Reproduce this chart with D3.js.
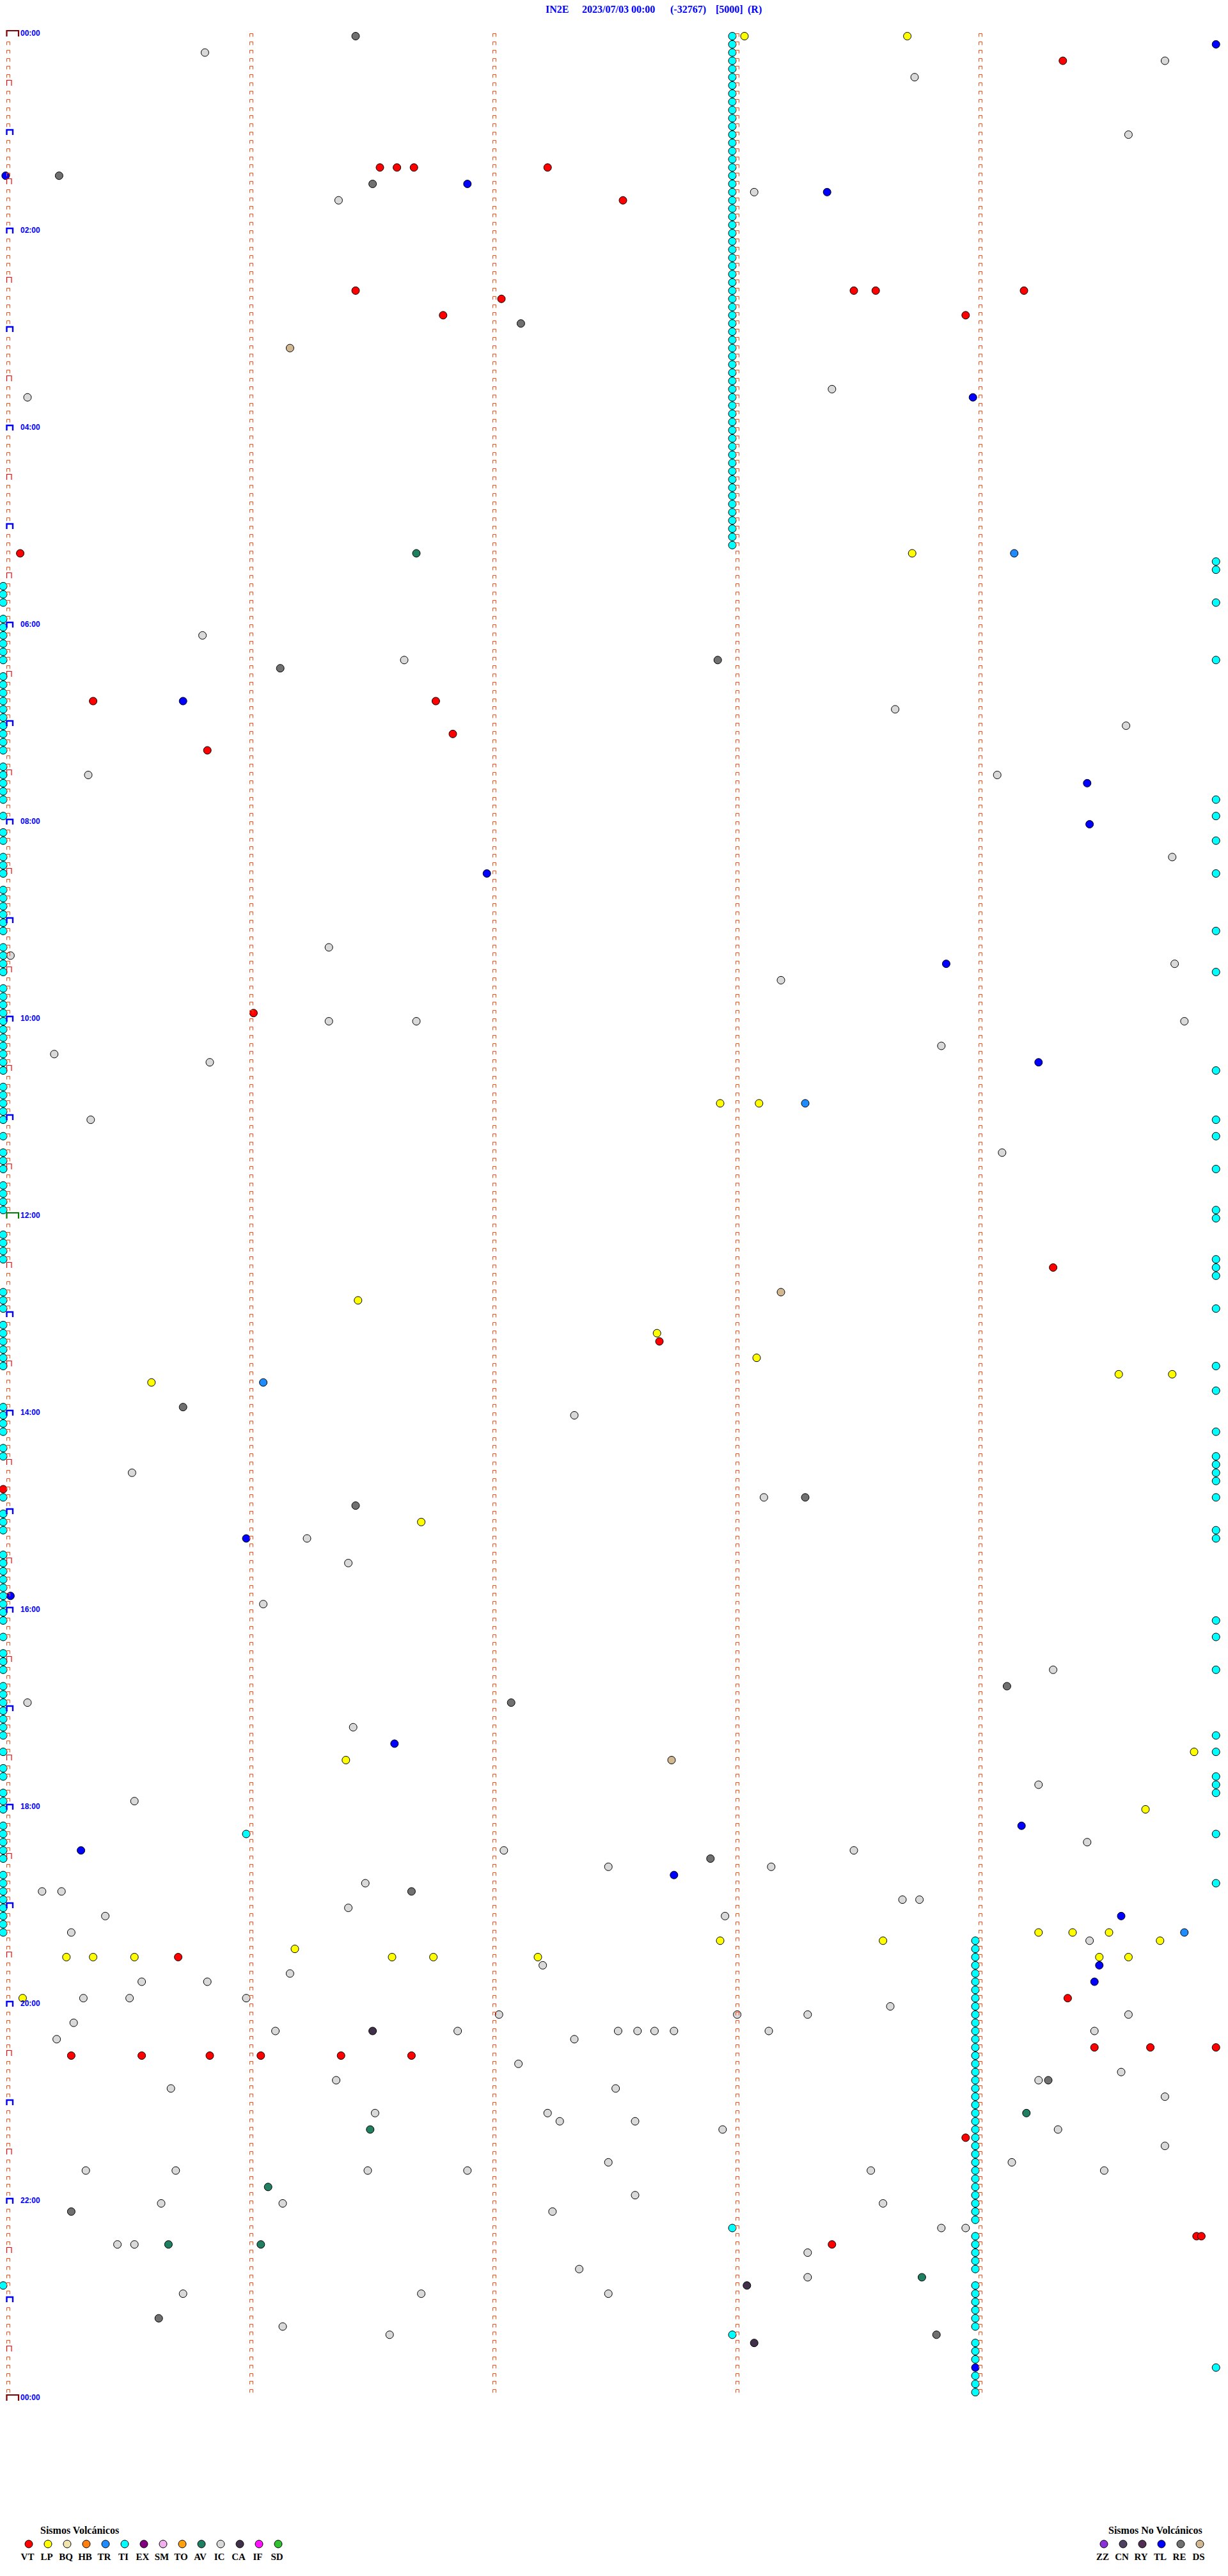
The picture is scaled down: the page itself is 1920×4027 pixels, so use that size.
<!DOCTYPE html>
<html><head><meta charset="utf-8">
<script src="https://cdn.jsdelivr.net/npm/d3@7"></script>
<style>body{margin:0;background:#fff}svg{display:block}</style>
</head><body>
<script>
// ---- DATA (event times in minutes after 00:00; each row = 5 minutes) ----
const title = ["IN2E", "2023/07/03 00:00", "(-32767)", "[5000]", "(R)"];
const hourLabels = ["00:00","02:00","04:00","06:00","08:00","10:00","12:00","14:00","16:00","18:00","20:00","22:00","00:00"];
const volcanicTypes = ["VT","LP","BQ","HB","TR","TI","EX","SM","TO","AV","IC","CA","IF","SD"];
const nonVolcanicTypes = ["ZZ","CN","RY","TL","RE","DS"];
const typeColors = {VT:"#ff0000",LP:"#ffff00",BQ:"#efe3b0",HB:"#ff8010",TR:"#1e8cff",TI:"#00ffff",EX:"#800080",SM:"#f0b0ec",TO:"#ffa010",AV:"#1f7f60",IC:"#d9d9d9",CA:"#40304a",IF:"#ff10ff",SD:"#30c030",ZZ:"#8a30d8",CN:"#504060",RY:"#502f52",TL:"#0000ff",RE:"#707070",DS:"#d2b890"};

const VT = [19.36,81.55,81.62,81.69,82.24,102.55,156.45,171.81,162.05,158.5,158.59,173.96,159.2,315.07,405.37,406.78,426.85,435.84,596.03,754.32,797.7,885.0,1170.72,1199.38,1230.28,1230.57,1230.85,1231.06,1231.39,1231.68,1229.49,1229.72,1229.99,1283.96,1344.91,1344.93,1348.41];
const LP = [3.05,3.72,318.74,652.95,653.11,771.46,792.69,808.1,819.59,819.81,820.61,906.72,1051.41,1049.9,1084.7,1162.95,1163.62,1159.26,1159.4,1159.55,1164.76,1166.2,1174.51,1174.63,1170.26,1170.37,1170.54,1171.6,1171.77,1172.2,1195.08];
const TR = [319.16,653.3,821.07,1159.86];
const TL = [9.99,85.01,91.91,98.39,223.99,405.74,459.46,484.47,511.99,568.88,629.26,916.0,950.03,1041.61,1094.19,1105.32,1122.76,1149.6,1179.51,1189.49,1424.0];
const TI = [3,8,13,18,23,28,33,38,43,48,53,58,63,68,73,78,83,88,93,98,103,108,113,118,123,128,133,138,143,148,153,158,163,168,173,178,183,188,193,198,203,208,213,218,223,228,233,238,243,248,253,258,263,268,273,278,283,288,293,298,303,308,313,
 1164,1169,1174,1179,1184,1189,1194,1199,1204,1209,1214,1219,1224,1229,1234,1239,1244,1249,1254,1259,1264,1269,1274,1279,1284,1289,1294,1299,1304,1309,1314,1319,1324,1329,1334,1344,1349,1354,1359,1364,1374,1379,1384,1389,1394,1399,1409,1414,1419,1429,1434,1439,
 1096.0,1338.0,1403.0];
const TIrowStart = [335,340,345,355,360,365,370,375,380,390,395,400,405,410,415,420,425,430,435,445,450,455,460,465,475,485,490,500,505,510,520,525,530,535,540,545,555,560,565,570,580,585,590,595,600,605,610,615,620,625,630,640,645,650,655,660,670,680,685,690,700,705,710,715,730,735,740,745,765,770,775,785,790,795,800,805,810,835,840,845,850,860,865,890,900,905,910,925,930,935,940,945,950,955,960,965,975,985,990,995,1005,1010,1015,1020,1025,1030,1035,1045,1055,1060,1070,1075,1080,1090,1095,1100,1105,1110,1120,1125,1130,1135,1140,1145,1150,1155,1370];
const TIrowEnd = [324.99,329.99,349.99,384.99,469.99,479.99,494.99,514.99,549.99,574.99,634.99,664.99,674.99,694.99,719.99,724.99,749.99,754.99,759.99,779.99,814.99,829.99,854.99,869.99,874.99,879.99,884.99,894.99,914.99,919.99,969.99,979.99,999.99,1039.99,1049.99,1064.99,1069.99,1074.99,1099.99,1129.99,1424.99];
const IC = [10.83,19.78,28.75,64.63,101.38,98.09,220.1,218.41,365.82,381.65,413.67,424.62,450.35,454.09,504.81,560.03,556.34,569.82,578.2,601.34,601.7,604.86,620.21,625.85,618.86,660.36,684.11,842.35,875.53,893.13,916.25,931.42,956.07,999.32,1015.1,1031.44,1069.26,1075.54,1107.06,1108.5,1104.46,1117.49,1118.16,1126.49,1130.16,1130.24,1138.7,1138.77,1141.42,1145.42,1147.97,1155.28,1164.47,1177.22,1181.18,1185.57,1185.84,1195.33,1195.52,1196.0,1203.65,1209.63,1207.04,1208.02,1208.31,1210.29,1216.12,1216.87,1217.53,1217.61,1217.68,1217.76,1218.15,1219.49,1220.22,1222.35,1237.12,1244.6,1246.37,1249.26,1250.69,1252.52,1259.78,1266.53,1267.24,1272.29,1272.6,1277.96,1279.34,1289.78,1299.15,1297.49,1303.57,1304.53,1300.34,1300.71,1301.5,1301.91,1317.6,1320.65,1321.15,1323.62,1327.26,1338.86,1338.96,1345.47,1345.54,1353.31,1362.37,1368.31,1375.74,1376.72,1377.49,1396.15,1401.59];
const RE = [1.45,85.23,91.52,177.13,386.14,382.94,835.74,896.45,893.3,1009.13,1017.09,1112.91,1131.68,1249.3,1325.28,1390.64,1403.84];
const CA = [1216.52,1373.06,1408.09];
const DS = [191.18,768.2,1052.75];
const AV = [316.7,1269.21,1276.51,1311.09,1345.68,1346.06,1368.78];

// ---- LAYOUT ----
const W = 1920, H = 4027;
const minutesPerRow = 5, nRows = 288;
const svg = d3.select("body").append("svg").attr("width", W).attr("height", H);
svg.append("rect").attr("width", W).attr("height", H).attr("fill", "#fff");

const x = d3.scaleLinear().domain([0, minutesPerRow]).range([5, 1905]);
const y = d3.scaleLinear().domain([0, 1440]).range([52, 3748]);
const rowTop = r => y(r * minutesPerRow);

// title
const titleX = [853, 910, 1048, 1119, 1169];
svg.append("g").selectAll("text").data(title).join("text")
  .attr("x", (d,i) => titleX[i]).attr("y", 20)
  .attr("font-family", "'Liberation Serif', serif").attr("font-size", 16).attr("font-weight", "bold")
  .attr("fill", "#0000ff").text(d => d);

// events
const events = [];
const add = (arr, type) => arr.forEach(t => events.push({t, type}));
add(IC,"IC"); add(RE,"RE"); add(CA,"CA"); add(DS,"DS"); add(AV,"AV");
add(TI,"TI"); add(TIrowStart,"TI"); add(TIrowEnd,"TI");
add(LP,"LP"); add(TR,"TR"); add(VT,"VT"); add(TL,"TL");

svg.append("g").selectAll("circle").data(events).join("circle")
  .attr("cx", d => x(d.t - Math.floor(d.t / minutesPerRow) * minutesPerRow))
  .attr("cy", d => rowTop(Math.floor(d.t / minutesPerRow)) + 4.5)
  .attr("r", 6)
  .attr("fill", d => typeColors[d.type])
  .attr("stroke", "#000").attr("stroke-width", 1);

// minute marks
const marks = svg.append("g").attr("fill", "none");
const markPath = (mx, top) => `M${mx},${top+5.5}V${top+0.5}H${mx+5}V${top+5.5}`;
for (let r = 0; r < nRows; r++) {
  const top = Math.round(rowTop(r));
  for (let k = 1; k < 5; k++) {
    marks.append("path").attr("d", markPath(Math.round(x(k)) + 0.5 + 5, top))
      .attr("stroke", "#ff4a12").attr("stroke-width", 1);
  }
}
for (let r = 0; r <= nRows; r++) {
  const top = Math.round(rowTop(r));
  if (r % 144 === 0) {
    marks.append("path").attr("d", `M10.5,${top+5}V${top-4}H29V${top+5}`)
      .attr("stroke", r === 144 ? "#008000" : "#800000").attr("stroke-width", 2.2);
  } else if (r % 12 === 0) {
    marks.append("path").attr("d", `M10.5,${top+5}V${top-3}H20V${top+5}`)
      .attr("stroke", "#0000ff").attr("stroke-width", 2.4);
  } else if (r % 6 === 0) {
    marks.append("path").attr("d", `M10.5,${top+5}V${top-3.5}H18V${top+5}`)
      .attr("stroke", "#ff0000").attr("stroke-width", 1.2);
  } else {
    marks.append("path").attr("d", markPath(10.5, top)).attr("stroke", "#ff4a12").attr("stroke-width", 1);
  }
}

// hour labels
svg.append("g").selectAll("text").data(hourLabels).join("text")
  .attr("x", 32).attr("y", (d,i) => Math.round(rowTop(i * 24)) + 4)
  .attr("font-family", "'Liberation Sans', Arial, sans-serif").attr("font-size", 12).attr("font-weight", "bold")
  .attr("fill", "#0000ff").text(d => d);

// legends
function legend(types, x0, titleText, titleX0) {
  const g = svg.append("g");
  g.append("text").attr("x", titleX0).attr("y", 3961)
    .attr("font-family", "'Liberation Serif', serif").attr("font-size", 16).attr("font-weight", "bold")
    .attr("fill", "#000").text(titleText);
  g.selectAll("circle").data(types).join("circle")
    .attr("cx", (d,i) => x0 + i*30).attr("cy", 3977).attr("r", 6)
    .attr("fill", d => typeColors[d]).attr("stroke", "#000").attr("stroke-width", 1);
  g.selectAll("text.lab").data(types).join("text").attr("class","lab")
    .attr("x", (d,i) => x0 + i*30 - 2).attr("y", 4002).attr("text-anchor", "middle")
    .attr("font-family", "'Liberation Serif', serif").attr("font-size", 15).attr("font-weight", "bold")
    .attr("fill", "#000").text(d => d);
}
legend(volcanicTypes, 45, "Sismos Volcánicos", 63);
legend(nonVolcanicTypes, 1726, "Sismos No Volcánicos", 1733);
</script>
</body></html>
